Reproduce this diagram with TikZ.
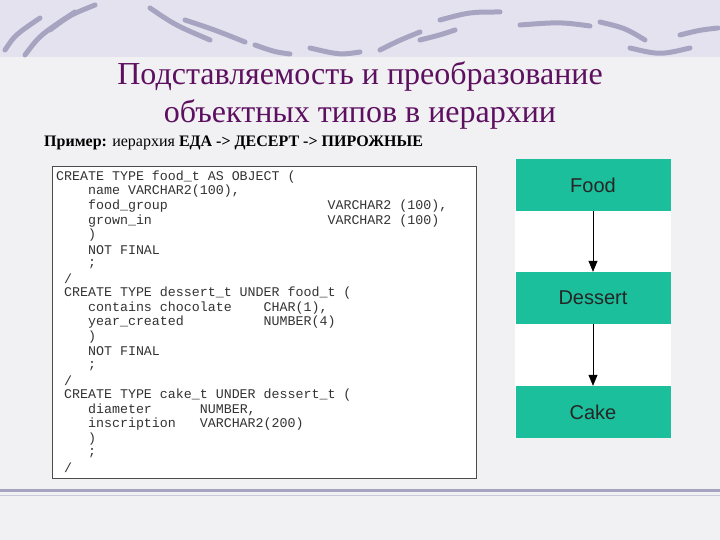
\documentclass[tikz,border=0pt]{standalone}
\usepackage{fontspec}
\usetikzlibrary{arrows.meta}
\setmainfont{Liberation Serif}
\newfontfamily\codefont{Liberation Mono}
\newfontfamily\boxfont{Liberation Sans}
\definecolor{bgc}{HTML}{F1F1F3}
\definecolor{band}{HTML}{E4E2EE}
\definecolor{swoosh}{HTML}{A7A4C2}
\definecolor{ttl}{HTML}{5E1060}
\definecolor{boxg}{HTML}{1BBF9C}
\tikzset{
  tbox/.style={fill=boxg,minimum width=155pt,minimum height=52pt,inner sep=0pt,font=\boxfont\fontsize{20}{20}\selectfont,text=black!85},
  codeln/.style={anchor=west,inner sep=0pt,font=\codefont\fontsize{13.3}{14}\selectfont,text=black!80},
  sw/.style={draw=swoosh,line width=5pt,line cap=round},
  arr/.style={-{Triangle[length=11pt,width=9pt]},line width=0.7pt}
}
\begin{document}
\begin{tikzpicture}[x=1pt,y=-1pt]
\useasboundingbox (0,0) rectangle (720,540);
\fill[bgc] (0,0) rectangle (720,540);
\fill[band] (0,0) rectangle (720,57);
% swooshes
\draw[sw] (5,50) .. controls (15,35) .. (40,18);
\draw[sw] (25,55) .. controls (40,35) .. (75,12);
\draw[sw] (50,30) .. controls (70,15) .. (95,5);
\draw[sw] (150,8) .. controls (175,25) .. (210,40);
\draw[sw] (185,20) .. controls (215,30) .. (245,42);
\draw[sw] (255,45) .. controls (275,52) .. (290,54);
\draw[sw] (310,48) .. controls (340,55) .. (360,52);
\draw[sw] (380,50) .. controls (400,40) .. (420,32);
\draw[sw] (420,40) .. controls (440,35) .. (455,30);
\draw[sw] (440,20) .. controls (470,12) .. (500,12);
\draw[sw] (520,25) .. controls (560,22) .. (590,26);
\draw[sw] (600,22) .. controls (625,28) .. (645,40);
\draw[sw] (630,48) .. controls (660,55) .. (690,48);
\draw[sw] (680,35) .. controls (700,30) .. (718,28);
% bottom line
\draw[swoosh,line width=3pt] (0,490) -- (720,490);
\draw[swoosh!60,line width=1pt] (0,495) -- (720,495);
% title
\node[text=ttl,font=\fontsize{32}{38}\selectfont,align=center] (title) at (360,95) {Подставляемость и преобразование\\объектных типов в иерархии};
\node[anchor=west,inner sep=0pt,font=\fontsize{16}{16}\selectfont] (sub) at (44,143) {\textbf{Пример:} иерархия \textbf{ЕДА -> ДЕСЕРТ -> ПИРОЖНЫЕ}};
% code box
\draw[fill=white,draw=black!70,line width=0.8pt] (52,166) rectangle (476,478);
\foreach \t [count=\i from 0] in {
 {CREATE TYPE food\_t AS OBJECT (},
 {\ \ \ \ name VARCHAR2(100),},
 {\ \ \ \ food\_group\ \ \ \ \ \ \ \ \ \ \ \ \ \ \ \ \ \ \ \ VARCHAR2 (100),},
 {\ \ \ \ grown\_in\ \ \ \ \ \ \ \ \ \ \ \ \ \ \ \ \ \ \ \ \ \ VARCHAR2 (100)},
 {\ \ \ \ )},
 {\ \ \ \ NOT FINAL},
 {\ \ \ \ ;},
 {\ /},
 {\ CREATE TYPE dessert\_t UNDER food\_t (},
 {\ \ \ \ contains chocolate\ \ \ \ CHAR(1),},
 {\ \ \ \ year\_created\ \ \ \ \ \ \ \ \ \ NUMBER(4)},
 {\ \ \ \ )},
 {\ \ \ \ NOT FINAL},
 {\ \ \ \ ;},
 {\ /},
 {\ CREATE TYPE cake\_t UNDER dessert\_t (},
 {\ \ \ \ diameter\ \ \ \ \ \ NUMBER,},
 {\ \ \ \ inscription\ \ \ VARCHAR2(200)},
 {\ \ \ \ )},
 {\ \ \ \ ;},
 {\ /}}
 \node[codeln] (c\i) at (56,{177+14.55*\i}) {\t};
% hierarchy
\fill[white] (515,159) rectangle (671,438);
\node[tbox] (food) at (593,185) {Food};
\node[tbox] (dessert) at (593,298) {Dessert};
\node[tbox] (cake) at (593,412) {Cake};
\draw[arr] (food) -- (dessert);
\draw[arr] (dessert) -- (cake);
\end{tikzpicture}
\end{document}
